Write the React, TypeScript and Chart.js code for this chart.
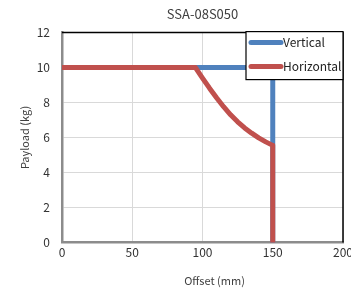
import React, { useEffect, useRef } from "react";
import { Chart, registerables } from "chart.js";

Chart.register(...registerables);

const chartTitle = "SSA-08S050";
const xTitle = "Offset (mm)";
const yTitle = "Payload (kg)";
const seriesNames = ["Vertical", "Horizontal"];
const seriesColors = ["#4F81BD", "#C0504D"];

const verticalX = [0, 150, 150];
const verticalY = [10, 10, 0];
const horizontalX = [0, 95, 100, 105, 110, 115, 120, 125, 130, 135, 140, 145, 150, 150];
const horizontalY = [10, 10, 9.4, 8.82, 8.27, 7.76, 7.3, 6.9, 6.55, 6.25, 5.98, 5.75, 5.55, 0];

const FONT = "'Noto Sans CJK KR', 'Noto Sans', sans-serif";

const frameAndLegend = {
  id: "frameAndLegend",
  afterDraw(chart: any) {
    const { ctx, chartArea } = chart;
    const { left, right, top, bottom } = chartArea;
    ctx.save();
    ctx.strokeStyle = "#000";
    ctx.lineWidth = 1.5;
    ctx.beginPath();
    ctx.moveTo(left, top);
    ctx.lineTo(right, top);
    ctx.lineTo(right, bottom);
    ctx.stroke();
    // x axis title, slightly right of centre as in the reference
    const xs = chart.scales.x;
    ctx.font = `11px ${FONT}`;
    ctx.fillStyle = "#404040";
    ctx.textAlign = "center";
    ctx.textBaseline = "middle";
    ctx.fillText(xTitle, (left + right) / 2 + 12, xs.bottom - 4 - 6.6);
    // legend
    const bw = 97;
    const bh = 48;
    const bx = right - bw;
    const by = top - 1;
    ctx.fillStyle = "#fff";
    ctx.fillRect(bx, by, bw, bh);
    ctx.strokeStyle = "#000";
    ctx.lineWidth = 1.2;
    ctx.strokeRect(bx, by, bw, bh);
    ctx.font = `12px ${FONT}`;
    ctx.textBaseline = "middle";
    ctx.textAlign = "left";
    seriesNames.forEach((name, i) => {
      const yy = by + 11 + i * 24;
      ctx.strokeStyle = seriesColors[i];
      ctx.lineWidth = 5;
      ctx.lineCap = "round";
      ctx.beginPath();
      ctx.moveTo(bx + 5, yy);
      ctx.lineTo(bx + 35, yy);
      ctx.stroke();
      ctx.fillStyle = "#222";
      ctx.fillText(name, bx + 37, yy);
    });
    ctx.restore();
  },
};

export default function App() {
  const ref = useRef<HTMLCanvasElement>(null);
  useEffect(() => {
    document.body.style.margin = "0";
    const toPts = (xs: number[], ys: number[]) => xs.map((x, i) => ({ x, y: ys[i] }));
    const chart = new Chart(ref.current!, {
      type: "line",
      data: {
        datasets: [
          {
            label: seriesNames[0],
            data: toPts(verticalX, verticalY),
            borderColor: seriesColors[0],
            borderWidth: 5,
            pointRadius: 0,
            tension: 0,
            borderCapStyle: "round",
            borderJoinStyle: "round",
            order: 1,
          },
          {
            label: seriesNames[1],
            data: toPts(horizontalX, horizontalY),
            borderColor: seriesColors[1],
            borderWidth: 5,
            pointRadius: 0,
            tension: 0,
            borderCapStyle: "round",
            borderJoinStyle: "round",
            order: 0,
          },
        ],
      },
      plugins: [frameAndLegend],
      options: {
        animation: false,
        responsive: false,
        layout: { padding: { top: 0, right: 17, bottom: 0, left: 18 } },
        plugins: {
          legend: { display: false },
          tooltip: { enabled: false },
          title: {
            display: true,
            text: chartTitle,
            fullSize: false,
            color: "#404040",
            font: { family: FONT, size: 13, weight: "normal" },
            padding: { top: 6, bottom: 11 },
          },
        },
        scales: {
          x: {
            type: "linear",
            min: 0,
            max: 200,
            ticks: { stepSize: 50, color: "#333", font: { family: FONT, size: 12 }, padding: 3 },
            grid: { color: "#d9d9d9", lineWidth: 1, drawTicks: false },
            border: { color: "#8c8c8c", width: 2.5 },
            title: {
              display: true,
              text: xTitle,
              color: "rgba(0,0,0,0)",
              font: { family: FONT, size: 11 },
              padding: { top: 11, bottom: 4 },
            },
          },
          y: {
            min: 0,
            max: 12,
            afterFit: (scale: any) => {
              scale.width = 44;
            },
            ticks: { stepSize: 2, color: "#333", font: { family: FONT, size: 12 }, padding: 12 },
            grid: { color: "#d9d9d9", lineWidth: 1, drawTicks: false },
            border: { color: "#8c8c8c", width: 2.5 },
            title: {
              display: true,
              text: yTitle,
              color: "#404040",
              font: { family: FONT, size: 11 },
              padding: { top: 0, bottom: 2 },
            },
          },
        },
      },
    });
    return () => chart.destroy();
  }, []);
  return (
    <div style={{ width: 351, height: 291, overflow: "hidden" }}>
      <canvas ref={ref} width={360} height={291} style={{ display: "block" }} />
    </div>
  );
}
